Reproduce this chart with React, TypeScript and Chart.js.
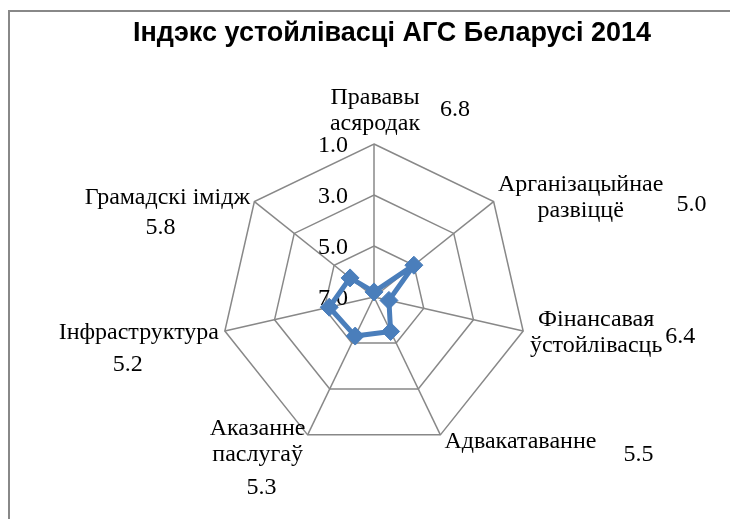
import React, { useEffect, useRef } from "react";
import { Chart, registerables } from "chart.js";

Chart.register(...registerables);

const chartTitle = "Індэкс устойлівасці АГС Беларусі 2014";
const categories: string[][] = [
  ["Прававы", "асяродак"],
  ["Арганізацыйнае", "развіццё"],
  ["Фінансавая", "ўстойлівасць"],
  ["Адвакатаванне"],
  ["Аказанне", "паслугаў"],
  ["Інфраструктура"],
  ["Грамадскі імідж"],
];
const values = [6.8, 5.0, 6.4, 5.5, 5.3, 5.2, 5.8];
const tickValues = [1, 3, 5, 7];
const tickLabels = ["1.0", "3.0", "5.0", "7.0"];

// layout offsets (px) of labels relative to outer vertex of each axis
const catOffsets: number[][] = [
  [1, -33.5], [87, -4], [73, 1.5], [80, 7], [-50, 7], [-86, 2], [-87, -4],
];
const valOffsets: number[][] = [
  [81, -34], [198, 3], [157, 6], [198, 20], [-46, 53], [-97, 34], [-94, 26],
];

const SERIF = '24px "Liberation Serif", "Times New Roman", serif';
const LINE_H = 26;

const labelsPlugin = {
  id: "customLabels",
  beforeDraw(chart: any) {
    const ctx = chart.ctx as CanvasRenderingContext2D;
    ctx.save();
    ctx.fillStyle = "#ffffff";
    ctx.fillRect(0, 0, chart.width, chart.height);
    ctx.fillStyle = "#888888";
    ctx.fillRect(8, 10, 2, chart.height);
    ctx.fillRect(8, 10, chart.width, 2);
    ctx.fillStyle = "#000000";
    ctx.font = 'bold 27px "Liberation Sans", Arial, sans-serif';
    ctx.textAlign = "center";
    ctx.textBaseline = "alphabetic";
    ctx.fillText(chartTitle, 392, 41);
    ctx.restore();
  },
  beforeDatasetsDraw(chart: any) {
    const ctx = chart.ctx as CanvasRenderingContext2D;
    const r = chart.scales.r;
    ctx.save();
    ctx.fillStyle = "#000000";
    ctx.font = SERIF;
    ctx.textBaseline = "middle";
    ctx.textAlign = "right";
    tickValues.forEach((tv, i) => {
      const d = r.getDistanceFromCenterForValue(tv);
      ctx.fillText(tickLabels[i], r.xCenter - 26, r.yCenter - d + 2);
    });
    ctx.textAlign = "center";
    categories.forEach((lines, i) => {
      const p = r.getPointPosition(i, r.drawingArea);
      const cx = p.x + catOffsets[i][0];
      const cy = p.y + catOffsets[i][1];
      const startY = cy - ((lines.length - 1) * LINE_H) / 2;
      lines.forEach((ln, k) => ctx.fillText(ln, cx, startY + k * LINE_H));
      ctx.fillText(values[i].toFixed(1), p.x + valOffsets[i][0], p.y + valOffsets[i][1]);
    });
    ctx.restore();
  },
};

export default function App() {
  const ref = useRef<HTMLCanvasElement | null>(null);
  useEffect(() => {
    if (!ref.current) return;
    const chart = new Chart(ref.current, {
      type: "radar",
      data: {
        labels: categories.map((c) => c.join(" ")),
        datasets: [
          {
            data: values,
            borderColor: "#4A7EBB",
            backgroundColor: "#4A7EBB",
            borderWidth: 5,
            borderJoinStyle: "round",
            fill: false,
            pointStyle: "rectRot",
            pointRadius: 9,
            pointBackgroundColor: "#4A7EBB",
            pointBorderColor: "#4A7EBB",
            pointBorderWidth: 1,
          },
        ],
      },
      options: {
        responsive: false,
        animation: false,
        devicePixelRatio: 1,
        layout: { padding: { left: 221, right: 203, top: 144, bottom: 69 } },
        plugins: {
          legend: { display: false },
          tooltip: { enabled: false },
          title: { display: false },
        },
        scales: {
          r: {
            min: 1,
            max: 7,
            reverse: true,
            ticks: { display: false, stepSize: 2 },
            pointLabels: { display: false },
            grid: { color: "#888888", lineWidth: 1.5 },
            angleLines: { color: "#888888", lineWidth: 1.5 },
          },
        },
      },
      plugins: [labelsPlugin],
    } as any);
    return () => chart.destroy();
  }, []);
  return (
    <div style={{ position: "absolute", left: 0, top: 0, width: 730, height: 519 }}>
      <canvas ref={ref} width={730} height={519} style={{ display: "block" }} />
    </div>
  );
}
